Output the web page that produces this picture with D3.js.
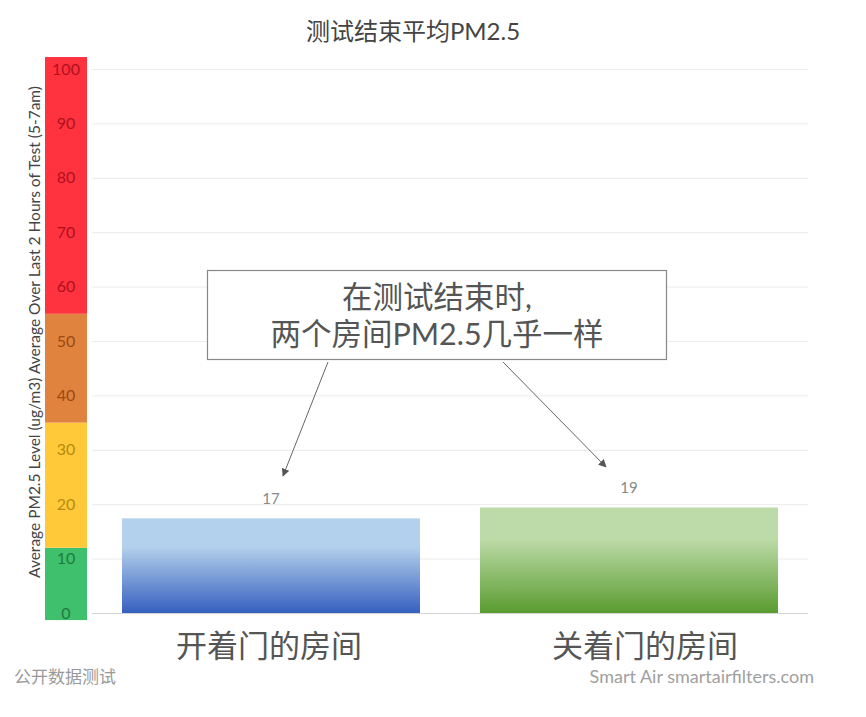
<!DOCTYPE html>
<html><head><meta charset="utf-8">
<script src="https://cdn.jsdelivr.net/npm/d3@7/dist/d3.min.js"></script>
<style>
body{margin:0;background:#fff;}
text{font-family:"Lato","Noto Sans CJK SC",sans-serif;}
</style></head>
<body><svg id="c" width="866" height="717"></svg>
<script>
const categories = ["开着门的房间", "关着门的房间"];
const values = [17.4, 19.4];
const yTicks = [0, 10, 20, 30, 40, 50, 60, 70, 80, 90, 100];
const bandEdges = [-1.3, 12, 35, 55, 102.2];
const bandColors = ["#3fc06c", "#ffc93a", "#e0833f", "#fe333f"];
const tickColors = ["#1f7a40", "#b88a10", "#9a4a12", "#b0101e"];
const barTop = ["#b3d0ec", "#bddba8"];
const barBottom = ["#3660c0", "#5a9c30"];
const title = "测试结束平均PM2.5";
const yTitle = "Average PM2.5 Level (ug/m3) Average Over Last 2 Hours of Test (5-7am)";
const noteLines = ["在测试结束时,", "两个房间PM2.5几乎一样"];

const svg = d3.select("#c");
const y = d3.scaleLinear().domain([0, 100]).range([613, 69]);
const x = d3.scaleBand().domain(categories).range([92, 808]).paddingInner(0.1676).paddingOuter(0.0838);
const labelShift = [-2, 16];

// gradients
const defs = svg.append("defs");
categories.forEach((c, i) => {
  const g = defs.append("linearGradient").attr("id", "g" + i).attr("x1", 0).attr("y1", 0).attr("x2", 0).attr("y2", 1);
  g.append("stop").attr("offset", "0%").attr("stop-color", barTop[i]);
  g.append("stop").attr("offset", "30%").attr("stop-color", barTop[i]);
  g.append("stop").attr("offset", "100%").attr("stop-color", barBottom[i]);
});
const mk = defs.append("marker").attr("id", "arr").attr("viewBox", "0 0 10 10").attr("refX", 9).attr("refY", 5)
  .attr("markerWidth", 8).attr("markerHeight", 8).attr("orient", "auto").attr("markerUnits", "userSpaceOnUse");
mk.append("path").attr("d", "M0,0L10,5L0,10z").attr("fill", "#555");

// title
svg.append("text").attr("x", 413).attr("y", 40).attr("text-anchor", "middle").attr("font-size", 24).attr("fill", "#444").text(title);

// gridlines
svg.append("g").selectAll("line").data(yTicks).join("line")
  .attr("x1", 92).attr("x2", 808).attr("y1", d => y(d) + 0.5).attr("y2", d => y(d) + 0.5)
  .attr("stroke", d => d === 0 ? "#d4d4d4" : "#ececec").attr("stroke-width", 1);

// color band
const bands = d3.range(bandColors.length).map(i => ({ lo: bandEdges[i], hi: bandEdges[i + 1], c: bandColors[i] }));
svg.append("g").selectAll("rect").data(bands).join("rect")
  .attr("x", 45).attr("width", 42).attr("y", d => y(d.hi)).attr("height", d => y(d.lo) - y(d.hi)).attr("fill", d => d.c);

// tick labels
const tickColor = v => { for (let i = 0; i < bands.length; i++) if (v >= bands[i].lo && v < bands[i].hi) return tickColors[i]; return tickColors[tickColors.length - 1]; };
svg.append("g").selectAll("text").data(yTicks).join("text")
  .attr("x", 66).attr("y", d => y(d)).attr("dy", "0.35em").attr("text-anchor", "middle")
  .attr("font-size", 16).attr("fill", d => tickColor(d)).text(d => d);

// y title
svg.append("text").attr("transform", "translate(40,332) rotate(-90)").attr("text-anchor", "middle")
  .attr("font-size", 15.5).attr("fill", "#444").text(yTitle);

// bars
svg.append("g").selectAll("rect").data(values).join("rect")
  .attr("x", (d, i) => x(categories[i])).attr("width", x.bandwidth())
  .attr("y", d => y(d)).attr("height", d => y(0) - y(d))
  .attr("fill", (d, i) => "url(#g" + i + ")");

// value labels
svg.append("g").selectAll("text").data(values).join("text")
  .attr("x", (d, i) => x(categories[i]) + x.bandwidth() / 2).attr("y", d => y(d) - 14)
  .attr("text-anchor", "middle").attr("font-size", 15).attr("fill", "#888").text(d => Math.round(d));

// category labels
svg.append("g").selectAll("text").data(categories).join("text")
  .attr("x", (d, i) => x(d) + x.bandwidth() / 2 + labelShift[i]).attr("y", 657).attr("text-anchor", "middle")
  .attr("font-size", 31).attr("fill", "#555").text(d => d);

// footer
svg.append("text").attr("x", 14).attr("y", 683).attr("font-size", 17).attr("fill", "#999").text("公开数据测试");
svg.append("text").attr("x", 814).attr("y", 683).attr("text-anchor", "end").attr("font-size", 18).attr("fill", "#a0a0a0").text("Smart Air smartairfilters.com");

// arrows
const arrows = [[328, 362, 283, 476], [503, 362, 606, 467]];
svg.append("g").selectAll("line").data(arrows).join("line")
  .attr("x1", d => d[0]).attr("y1", d => d[1]).attr("x2", d => d[2]).attr("y2", d => d[3])
  .attr("stroke", "#666").attr("stroke-width", 1).attr("marker-end", "url(#arr)");

// annotation box
svg.append("rect").attr("x", 207.5).attr("y", 270.5).attr("width", 459).attr("height", 89)
  .attr("fill", "#fff").attr("stroke", "#888").attr("stroke-width", 1.2);
svg.append("g").selectAll("text").data(noteLines).join("text")
  .attr("x", 437).attr("y", (d, i) => 308 + i * 37).attr("text-anchor", "middle")
  .attr("font-size", 30.5).attr("fill", "#555").text(d => d);
</script></body></html>
